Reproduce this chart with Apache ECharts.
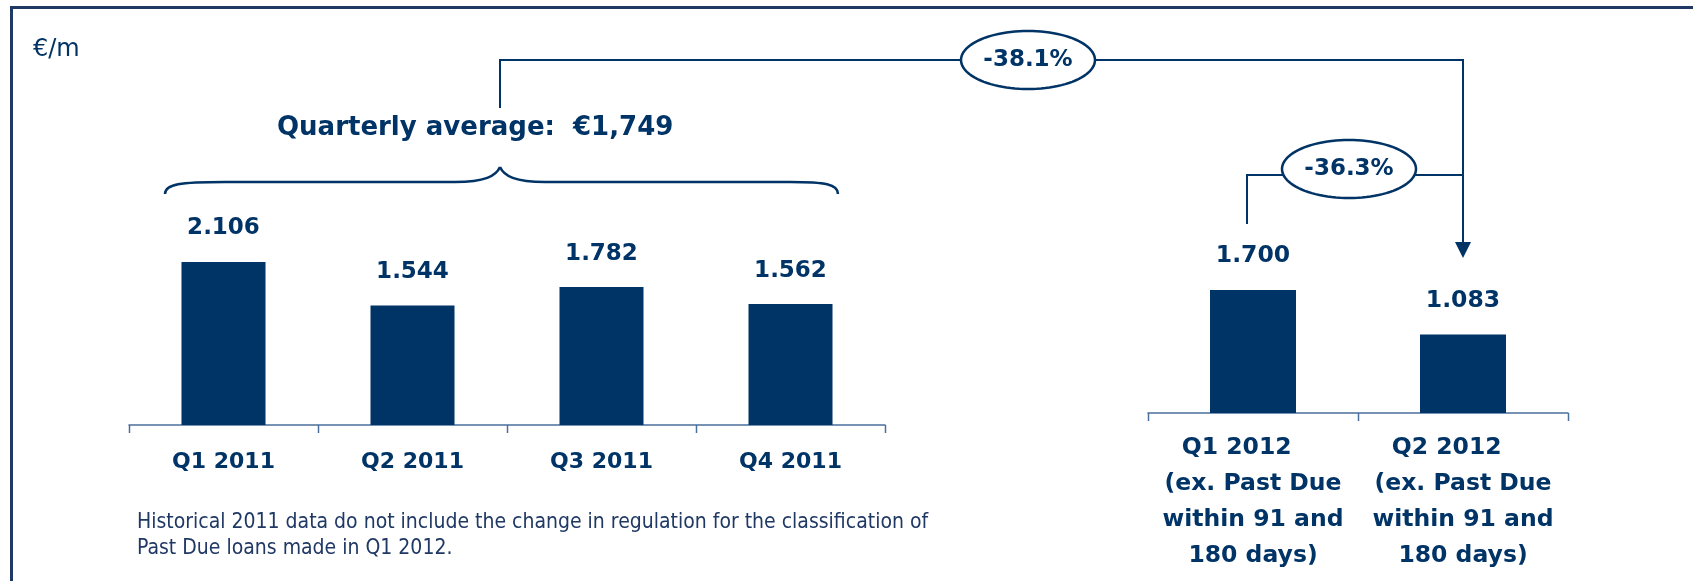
<!DOCTYPE html>
<html><head><meta charset="utf-8">
<script src="https://cdn.jsdelivr.net/npm/echarts@6/dist/echarts.min.js"></script>
<style>html,body{margin:0;padding:0;background:#fff;}#c{width:1693px;height:581px;}</style>
</head><body><div id="c"></div>
<script>
// ---- data ----
const categories2011 = ['Q1 2011', 'Q2 2011', 'Q3 2011', 'Q4 2011'];
const values2011 = [2106, 1544, 1782, 1562];
const categories2012 = ['Q1 2012    \n(ex. Past Due\nwithin 91 and\n180 days)', 'Q2 2012    \n(ex. Past Due\nwithin 91 and\n180 days)'];
const values2012 = [1700, 1083];
const unitLabel = '€/m';
const averageLabel = 'Quarterly average:  €1,749';
const changeLabels = ['-38.1%', '-36.3%'];
const footnoteLines = ['Historical 2011 data do not include the change in regulation for the classification of', 'Past Due loans made in Q1 2012.'];

// ---- style ----
const NAVY = '#003366';
const AXIS = '#4a6f9c';
const BOLD = 'DejaVu Sans';
const fmt = p => (p.value / 1000).toFixed(3);

const chart = echarts.init(document.getElementById('c'), null, {renderer: 'canvas'});
const option = {
  animation: false,
  backgroundColor: '#ffffff',
  grid: [
    {left: 129, width: 756, top: 231.5, height: 193.5},
    {left: 1148, width: 420, top: 232, height: 181}
  ],
  xAxis: [
    {type: 'category', gridIndex: 0, data: categories2011, boundaryGap: true,
     axisLine: {show: true, lineStyle: {color: AXIS, width: 1.5}},
     axisTick: {show: false},
     axisLabel: {interval: 0, margin: 26, color: NAVY, fontFamily: BOLD, fontWeight: 'bold', fontSize: 22}},
    {type: 'category', gridIndex: 1, data: categories2012, boundaryGap: true,
     axisLine: {show: true, lineStyle: {color: AXIS, width: 1.5}},
     axisTick: {show: false},
     axisLabel: {interval: 0, margin: 17, color: NAVY, fontFamily: BOLD, fontWeight: 'bold', fontSize: 23.5, lineHeight: 36}}
  ],
  yAxis: [
    {type: 'value', gridIndex: 0, min: 0, max: 2500, show: false},
    {type: 'value', gridIndex: 1, min: 0, max: 2500, show: false}
  ],
  series: [
    {type: 'bar', xAxisIndex: 0, yAxisIndex: 0, data: values2011, barWidth: 84,
     itemStyle: {color: NAVY},
     label: {show: true, position: 'top', distance: 22, formatter: fmt, color: NAVY, fontFamily: BOLD, fontWeight: 'bold', fontSize: 23}},
    {type: 'bar', xAxisIndex: 1, yAxisIndex: 1, data: values2012, barWidth: 86,
     itemStyle: {color: NAVY},
     label: {show: true, position: 'top', distance: 22, formatter: fmt, color: NAVY, fontFamily: BOLD, fontWeight: 'bold', fontSize: 23.5}}
  ]
};
chart.setOption(option);

// ---- annotations, anchored to the axes ----
const xQ1_12 = chart.convertToPixel({xAxisIndex: 1}, categories2012[0]);
const xQ2_12 = chart.convertToPixel({xAxisIndex: 1}, categories2012[1]);
const xAvg = 500;
const yTop = 60, yMid = 175, yArrow = 258;
function ellipsePts(cx, cy, rx, ry) {
  const pts = [];
  for (let i = 0; i < 96; i++) {
    const a = i / 96 * Math.PI * 2;
    pts.push([cx + rx * Math.cos(a), cy + ry * Math.sin(a)]);
  }
  return pts;
}
const e1 = {cx: 1028, cy: 60}, e2 = {cx: 1349, cy: 169};
const lineStyle = {stroke: NAVY, lineWidth: 2, fill: null};
const braceStyle = {stroke: NAVY, lineWidth: 2.5, fill: null};
const bez = (x1, y1, cpx1, cpy1, cpx2, cpy2, x2, y2) => ({type: 'bezierCurve', shape: {x1, y1, cpx1, cpy1, cpx2, cpy2, x2, y2}, style: braceStyle});
// axis ticks at category boundaries (drawn from the axis scale)
const tickEls = [];
[[0, categories2011, 425], [1, categories2012, 413]].forEach(([ai, cats, y0]) => {
  const step = chart.convertToPixel({xAxisIndex: ai}, cats[1]) - chart.convertToPixel({xAxisIndex: ai}, cats[0]);
  const first = chart.convertToPixel({xAxisIndex: ai}, cats[0]) - step / 2;
  for (let i = 0; i <= cats.length; i++) {
    const x = Math.round(first + i * step) + 0.5;
    tickEls.push({type: 'line', shape: {x1: x, y1: y0, x2: x, y2: y0 + 8}, style: {stroke: AXIS, lineWidth: 1.5}});
  }
});
chart.setOption({graphic: tickEls.concat([
  {type: 'polyline', shape: {points: [[11.5, 581], [11.5, 7.5], [1693, 7.5]]}, style: {stroke: '#1f3864', lineWidth: 3, fill: null}},
  {type: 'text', x: 33, y: 50, style: {text: unitLabel, fill: NAVY, font: 'normal 24px "DejaVu Sans"', verticalAlign: 'middle', align: 'left'}},
  {type: 'text', x: 277, y: 128, style: {text: averageLabel, fill: NAVY, font: 'bold 26px "DejaVu Sans"', verticalAlign: 'middle', align: 'left'}},
  bez(165, 194, 165, 184, 180, 182, 225, 182),
  {type: 'line', shape: {x1: 225, y1: 182, x2: 455, y2: 182}, style: braceStyle},
  bez(455, 182, 485, 182, 496, 176, 500, 167),
  bez(500, 167, 504, 176, 515, 182, 545, 182),
  {type: 'line', shape: {x1: 545, y1: 182, x2: 790, y2: 182}, style: braceStyle},
  bez(790, 182, 825, 182, 838, 184, 838, 194),
  {type: 'polyline', shape: {points: [[xAvg, 108], [xAvg, yTop], [xQ2_12, yTop], [xQ2_12, yArrow - 12]]}, style: lineStyle},
  {type: 'polygon', shape: {points: [[xQ2_12 - 8, yArrow - 16], [xQ2_12 + 8, yArrow - 16], [xQ2_12, yArrow]]}, style: {fill: NAVY}},
  {type: 'polyline', shape: {points: [[xQ1_12 - 6, 224], [xQ1_12 - 6, yMid], [xQ2_12, yMid]]}, style: lineStyle},
  {type: 'polygon', shape: {points: ellipsePts(e1.cx, e1.cy, 67, 29)}, style: {stroke: NAVY, lineWidth: 2.5, fill: '#fff'}},
  {type: 'polygon', shape: {points: ellipsePts(e2.cx, e2.cy, 67, 29)}, style: {stroke: NAVY, lineWidth: 2.5, fill: '#fff'}},
  {type: 'text', x: e1.cx, y: e1.cy, style: {text: changeLabels[0], fill: NAVY, font: 'bold 23px "DejaVu Sans"', align: 'center', verticalAlign: 'middle'}},
  {type: 'text', x: e2.cx, y: e2.cy, style: {text: changeLabels[1], fill: NAVY, font: 'bold 23px "DejaVu Sans"', align: 'center', verticalAlign: 'middle'}},
  {type: 'text', x: 137, y: 510, style: {text: footnoteLines.join('\n'), fill: '#1f3864', font: 'normal 21px "DejaVu Sans Condensed", "DejaVu Sans"', lineHeight: 26, align: 'left', verticalAlign: 'top'}}
])});
</script></body></html>
